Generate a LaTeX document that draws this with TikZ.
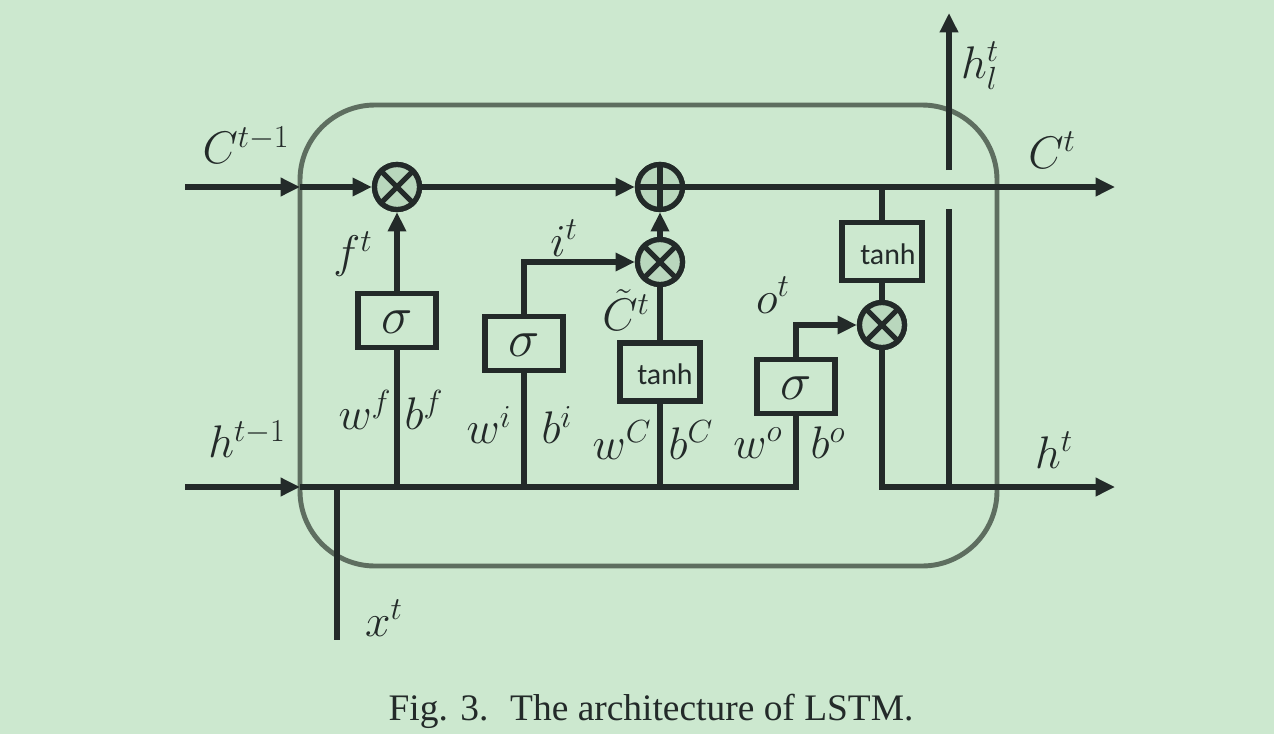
\documentclass[tikz,border=0pt]{standalone}
\usepackage{fix-cm}
\usepackage{fontspec}
\setmainfont{Liberation Serif}
\newfontfamily\calib{Carlito}
\usetikzlibrary{arrows.meta}
\definecolor{bg}{HTML}{CCE8CF}
\definecolor{ink}{HTML}{232A29}
\definecolor{frame}{HTML}{5E6E60}
\definecolor{opfill}{HTML}{B9D7BD}
\begin{document}
\begin{tikzpicture}[x=0.02cm,y=-0.02cm,
  wire/.style={draw=ink,line width=3.4pt},
  arr/.style={wire,-{Triangle[length=11pt,width=10pt]}},
  op/.style={circle,draw=ink,fill=opfill,line width=3pt,minimum size=0.9cm,inner sep=0pt},
  gate/.style={rectangle,draw=ink,line width=3.4pt,minimum width=1.56cm,minimum height=1.08cm,inner sep=0pt,fill=bg},
  tgate/.style={gate,minimum width=1.6cm,minimum height=1.16cm},
  lbl/.style={inner sep=0pt,text=ink,font=\fontsize{26}{30}\selectfont},
  slbl/.style={inner sep=0pt,text=ink,font=\fontsize{30}{34}\selectfont},
  tlbl/.style={inner sep=0pt,text=ink,font=\calib\fontsize{17}{20}\selectfont},
]
\fill[bg] (0,0) rectangle (1274,734);
\useasboundingbox (0,0) rectangle (1274,734);
\draw[frame,line width=2.8pt,rounded corners=1.5cm] (300,105) rectangle (997,566);

% coordinates
\coordinate (cin) at (185,187);
\coordinate (cedge) at (300,187);
\coordinate (cout) at (1115,187);
\coordinate (hin) at (185,487);
\coordinate (hedge) at (300,487);
\coordinate (hout) at (1115,487);
\coordinate (xb) at (337,640);
\coordinate (xt) at (337,487);
\coordinate (hlb) at (949,487);
\coordinate (hlg1) at (949,209);
\coordinate (hlg2) at (949,170);
\coordinate (hltop) at (949,13);

% gates
\node[gate] (sf) at (397,320.5) {};
\node[gate] (si) at (524,343.5) {};
\node[tgate] (tc) at (660,372) {};
\node[gate] (so) at (796,386.5) {};
\node[tgate] (th) at (882,251.5) {};

% operators
\node[op] (m1) at (397,187) {};
\node[op] (a1) at (660,187) {};
\node[op] (m2) at (660,262) {};
\node[op] (m3) at (882,325) {};

% connectors
\draw[arr] (cin) -- (cedge);
\draw[arr] (cedge) -- (m1);
\draw[arr] (m1) -- (a1);
\draw[arr] (a1) -- (cout);
\draw[arr] (hin) -- (hedge);
\draw[wire] (hedge) -| (so.south);
\draw[wire] (xt) -- (xb);
\draw[wire] (sf.south |- hedge) -- (sf.south);
\draw[arr] (sf.north) -- (m1.south);
\draw[wire] (si.south |- hedge) -- (si.south);
\draw[arr] (si.north) |- (m2.west);
\draw[wire] (tc.south |- hedge) -- (tc.south);
\draw[wire] (tc.north) -- (m2.south);
\draw[arr] (m2.north) -- (a1.south);
\draw[arr] (so.north) |- (m3.west);
\draw[wire] (th.north |- a1) -- (th.north);
\draw[wire] (th.south) -- (m3.north);
\draw[arr] (m3.south) |- (hout);
\draw[wire] (hlb) -- (hlg1);
\draw[arr] (hlg2) -- (hltop);

% redraw operator symbols on top
\foreach \n in {m1,m2,m3}{
  \node[op] at (\n) {};
  \draw[ink,line width=3pt] (\n.45) -- (\n.225) (\n.135) -- (\n.315);
}
\node[op] at (a1) {};
\draw[ink,line width=3pt] (a1.north) -- (a1.south) (a1.west) -- (a1.east);

% gate texts
\node[slbl] (sft) at (397,322) {$\sigma$};
\node[slbl] (sit) at (524,345) {$\sigma$};
\node[slbl] (sot) at (796,388) {$\sigma$};
\node[tlbl] (tct) at (665,374) {tanh};
\node[tlbl] (tht) at (888,254) {tanh};

% labels
\node[lbl] (lc0) at (246,145) {$C^{t-1}$};
\node[lbl] (lh0) at (247,439) {$h^{t-1}$};
\node[lbl] (lf) at (353,254) {$f^t$};
\node[lbl] (li) at (564,238) {$i^t$};
\node[lbl] (lct) at (626,310) {$\tilde{C}^t$};
\node[lbl] (lo) at (773,295) {$o^t$};
\node[lbl] (lwf) at (365,410) {$w^f$};
\node[lbl] (lbf) at (424,410) {$b^f$};
\node[lbl] (lwi) at (489,425) {$w^i$};
\node[lbl] (lbi) at (557,425) {$b^i$};
\node[lbl] (lwc) at (622,440) {$w^C$};
\node[lbl] (lbc) at (691,440) {$b^C$};
\node[lbl] (lwo) at (758,443) {$w^o$};
\node[lbl] (lbo) at (828,443) {$b^o$};
\node[lbl] (lc1) at (1052,150) {$C^t$};
\node[lbl] (lh1) at (1054,450) {$h^t$};
\node[lbl] (lhl) at (980,66) {$h_l^t$};
\node[lbl] (lx) at (384,618) {$x^t$};

% caption
\node[inner sep=0pt,text=ink,font=\fontsize{21.3}{25}\selectfont] (cap) at (651,711) {Fig. 3.\hspace{0.25em} The architecture of LSTM.};
\end{tikzpicture}
\end{document}
